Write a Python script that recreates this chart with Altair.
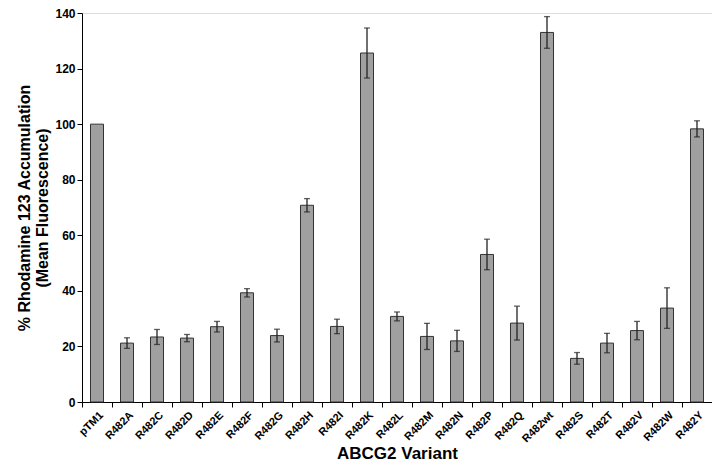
import altair as alt
import pandas as pd

variants = ["pTM1", "R482A", "R482C", "R482D", "R482E", "R482F", "R482G", "R482H",
            "R482I", "R482K", "R482L", "R482M", "R482N", "R482P", "R482Q", "R482wt",
            "R482S", "R482T", "R482V", "R482W", "R482Y"]
means = [100, 21.2, 23.4, 23.0, 27.1, 39.3, 23.9, 70.8, 27.2, 125.6, 30.8, 23.6, 22.0,
         53.1, 28.4, 133.0, 15.7, 21.2, 25.7, 33.8, 98.3]
errors = [0, 1.9, 2.7, 1.3, 1.9, 1.5, 2.3, 2.4, 2.6, 9.0, 1.6, 4.7, 3.8, 5.5, 6.1, 5.7,
          2.1, 3.5, 3.3, 7.3, 2.9]

df = pd.DataFrame({"variant": variants, "mean": means, "err": errors})
df["lo"] = df["mean"] - df["err"]
df["hi"] = df["mean"] + df["err"]
err_df = df[df["err"] > 0]

FONT = "Liberation Sans"

x_enc = alt.X("variant:N", sort=variants,
              scale=alt.Scale(paddingInner=0, paddingOuter=0),
              axis=alt.Axis(title="ABCG2 Variant", labelAngle=-45, labelFontSize=11,
                            labelFontWeight="bold", labelColor="black",
                            labelAlign="right", labelBaseline="top",
                            tickBand="extent", tickSize=5, tickColor="black",
                            domainColor="black", titleFontSize=17,
                            titleFontWeight="bold", titlePadding=1,
                            titleColor="black"))

y_scale = alt.Scale(domain=[0, 140], nice=False)

bars = alt.Chart(df).mark_bar(size=13, fill="#a0a0a0", stroke="#333333",
                              strokeWidth=1).encode(
    x=x_enc,
    y=alt.Y("mean:Q", scale=y_scale,
            axis=alt.Axis(values=list(range(0, 141, 20)), grid=False,
                          title=["% Rhodamine 123 Accumulation", "(Mean Fluorescence)"],
                          titleFontSize=16, titleFontWeight="bold", titleColor="black",
                          labelFontSize=12, labelFontWeight="bold", labelColor="black",
                          tickSize=5, tickColor="black", domainColor="black",
                          titlePadding=4, titleLineHeight=18)),
)

rules = alt.Chart(err_df).mark_rule(color="#222222", strokeWidth=1.3).encode(
    x=alt.X("variant:N", sort=variants),
    y=alt.Y("lo:Q", scale=y_scale),
    y2="hi:Q",
)
cap_hi = alt.Chart(err_df).mark_tick(color="#222222", size=6, thickness=1.3,
                                     orient="horizontal").encode(
    x=alt.X("variant:N", sort=variants),
    y=alt.Y("hi:Q", scale=y_scale),
)
cap_lo = alt.Chart(err_df).mark_tick(color="#222222", size=6, thickness=1.3,
                                     orient="horizontal").encode(
    x=alt.X("variant:N", sort=variants),
    y=alt.Y("lo:Q", scale=y_scale),
)

chart = alt.layer(bars, rules, cap_hi, cap_lo).properties(
    width=630, height=389,
    autosize=alt.AutoSizeParams(type="none"),
    padding={"left": 74, "top": 5, "right": 0, "bottom": 64},
).configure_view(stroke=None).configure(font=FONT).configure_axis(labelFont=FONT,
                                                                   titleFont=FONT)

chart.save("out.html", embed_options={"renderer": "svg", "actions": False})
